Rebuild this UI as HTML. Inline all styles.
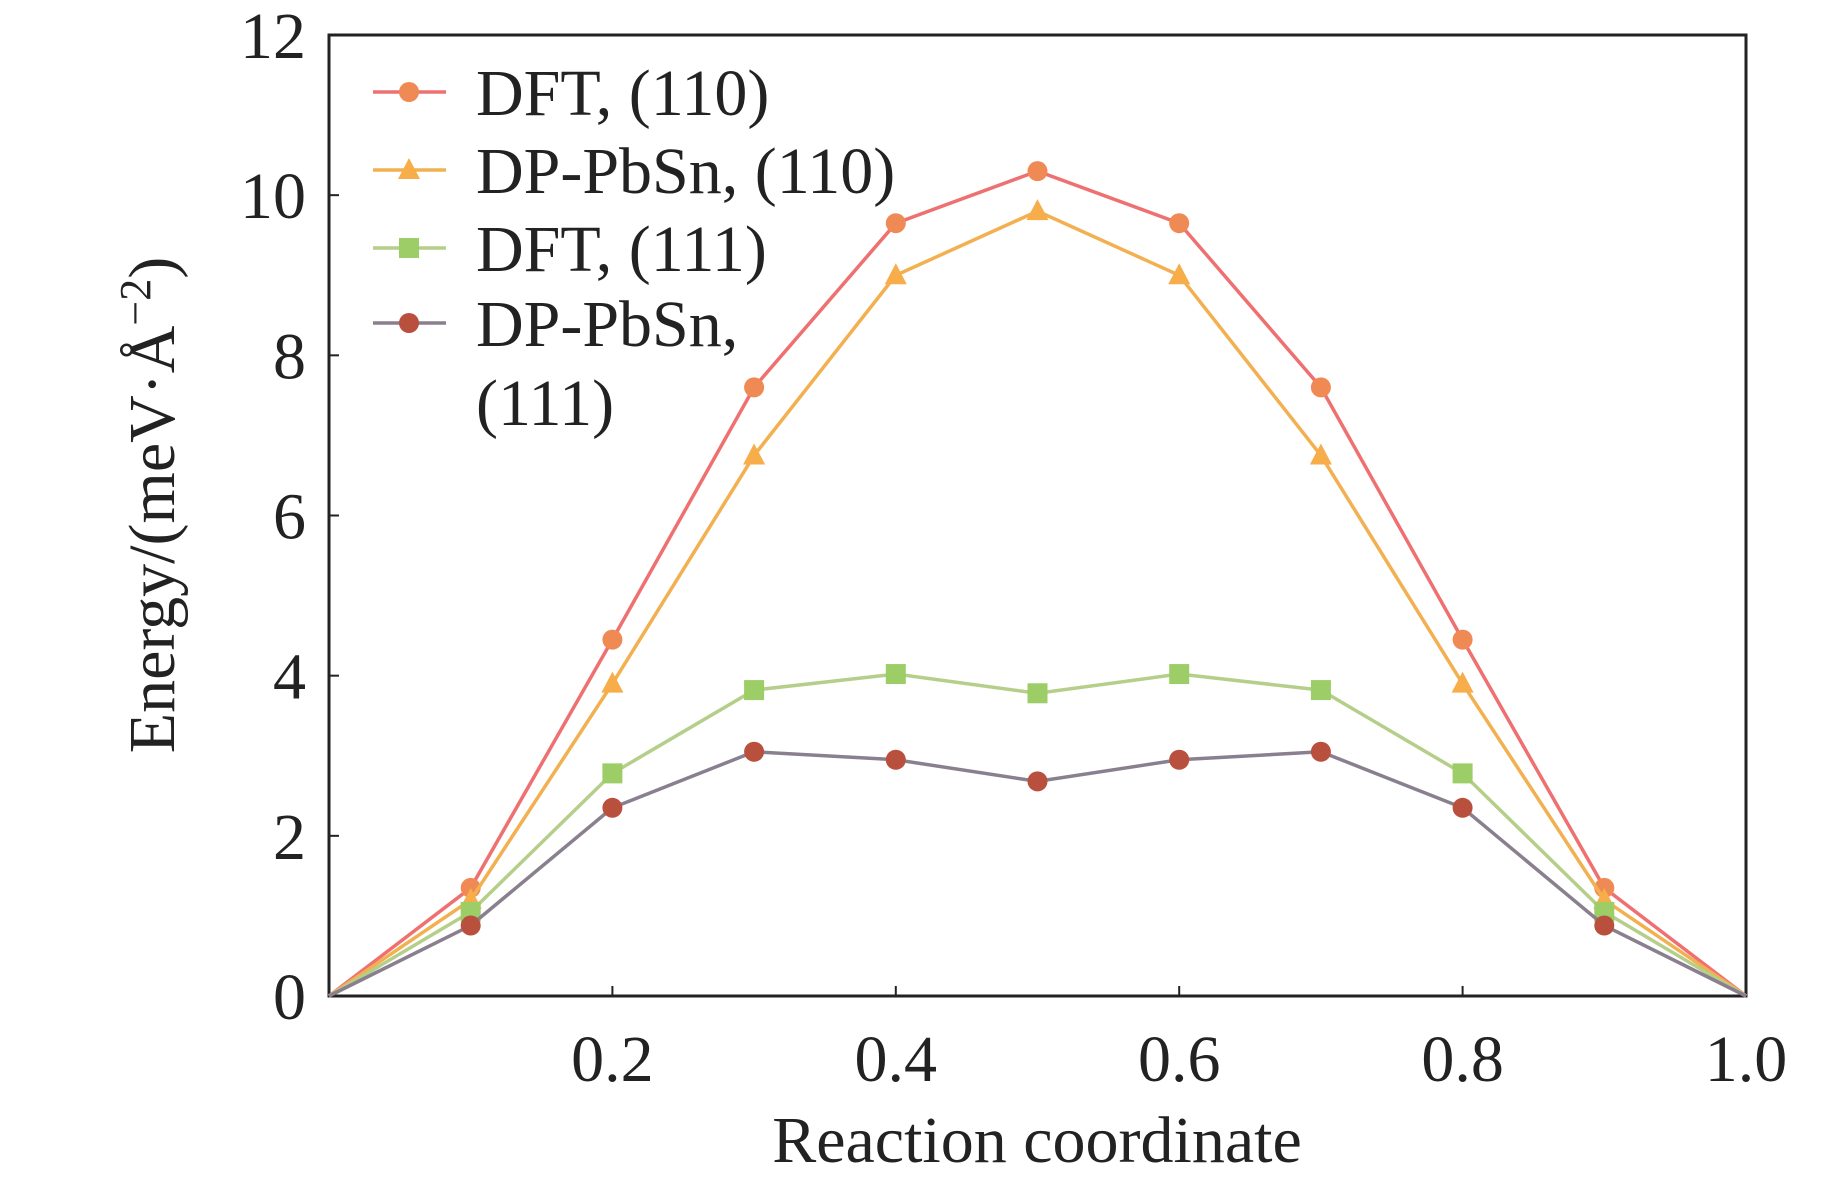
<!DOCTYPE html>
<html><head><meta charset="utf-8"><style>
body{margin:0;background:#fff}
svg{display:block;font-family:"Liberation Serif",serif}
</style></head><body>
<svg id="chart" width="1842" height="1178" xmlns="http://www.w3.org/2000/svg">
<g id="grid"></g>
<g id="series"></g>
<g id="legend"></g>
</svg>
<script>
const xValues=[0,0.1,0.2,0.3,0.4,0.5,0.6,0.7,0.8,0.9,1.0];
const dft110=[0,1.35,4.45,7.6,9.65,10.3,9.65,7.6,4.45,1.35,0];
const dp110=[0,1.2,3.9,6.75,9.0,9.8,9.0,6.75,3.9,1.2,0];
const dft111=[0,1.05,2.78,3.82,4.02,3.78,4.02,3.82,2.78,1.05,0];
const dp111=[0,0.88,2.35,3.05,2.95,2.68,2.95,3.05,2.35,0.88,0];
const xTicks=[0.2,0.4,0.6,0.8,1.0];
const xTickLabels=["0.2","0.4","0.6","0.8","1.0"];
const yTicks=[0,2,4,6,8,10,12];
const seriesNames=["DFT, (110)","DP-PbSn, (110)","DFT, (111)","DP-PbSn,"];

const L=329,R=1746,T=35,B=996;
const FS=66;
const sx=v=>L+(v-0)/(1-0)*(R-L);
const sy=v=>B-(v/12)*(B-T);
const NS="http://www.w3.org/2000/svg";
function mk(tag,attrs,parent){const e=document.createElementNS(NS,tag);for(const k in attrs)e.setAttribute(k,attrs[k]);parent.appendChild(e);return e;}
const g=document.getElementById('grid'),sg=document.getElementById('series'),lg=document.getElementById('legend');

const frame=mk('rect',{x:L,y:T,width:R-L,height:B-T,fill:'none',stroke:'#222','stroke-width':3},g);



xTicks.forEach((v,i)=>{
  const t=mk('line',{x1:sx(v),x2:sx(v),y1:B,y2:B-10,stroke:'#222','stroke-width':2},g);
  
  
  const tx=mk('text',{x:sx(v),y:1081,'font-size':FS,'text-anchor':'middle',fill:'#222'},g);
  tx.textContent=xTickLabels[i];
  
  
});
yTicks.forEach(v=>{
  const t=mk('line',{x1:L,x2:L+10,y1:sy(v),y2:sy(v),stroke:'#222','stroke-width':2},g);
  
  
  const tx=mk('text',{x:306,y:sy(v)+23,'font-size':FS,'text-anchor':'end',fill:'#222'},g);
  tx.textContent=String(v);
  
  
});
const xt=mk('text',{x:1037,y:1162,'font-size':FS,'text-anchor':'middle',fill:'#222'},g);
xt.textContent='Reaction coordinate';


const yt=mk('text',{x:0,y:0,'font-size':FS,'text-anchor':'middle',fill:'#222',transform:'translate(174,505) rotate(-90)'},g);
yt.innerHTML='Energy/(meV·Å<tspan dy="-24" font-size="44">−2</tspan><tspan dy="24">)</tspan>';



const series=[
 {vals:dft110,line:'#ef7070',fill:'#f08a55',shape:'circle',name:'dft-110'},
 {vals:dp110,line:'#f2b050',fill:'#f6ad4a',shape:'tri',name:'dp-pbsn-110'},
 {vals:dft111,line:'#b5cf8a',fill:'#9ccd66',shape:'square',name:'dft-111'},
 {vals:dp111,line:'#8a7f8e',fill:'#b9503e',shape:'circle',name:'dp-pbsn-111'}
];
function marker(shape,x,y,fill,parent){
  let m;
  if(shape==='circle')m=mk('circle',{cx:x,cy:y,r:10,fill:fill},parent);
  else if(shape==='square')m=mk('rect',{x:x-10,y:y-10,width:20,height:20,fill:fill},parent);
  else m=mk('polygon',{points:`${x},${y-12} ${x-11},${y+9} ${x+11},${y+9}`,fill:fill},parent);
  return m;
}
series.forEach(s=>{
  const pts=s.vals.map((v,i)=>sx(xValues[i])+','+sy(v)).join(' ');
  const pl=mk('polyline',{points:pts,fill:'none',stroke:s.line,'stroke-width':3.5},sg);
  
  
  s.vals.forEach((v,i)=>{
    if(i===0||i===s.vals.length-1)return;
    const m=marker(s.shape,sx(xValues[i]),sy(v),s.fill,sg);
    
    
  });
});
const legY=[92,170,248,323];
series.forEach((s,i)=>{
  const ln=mk('line',{x1:373,x2:446,y1:legY[i],y2:legY[i],stroke:s.line,'stroke-width':3.5},lg);
  
  
  const m=marker(s.shape,409,legY[i],s.fill,lg);
  
  
  const tx=mk('text',{x:476,y:legY[i]+23,'font-size':FS,fill:'#222'},lg);
  tx.textContent=seriesNames[i];
  
  
});
const t2=mk('text',{x:476,y:425,'font-size':FS,fill:'#222'},lg);
t2.textContent='(111)';


</script>
</body></html>
